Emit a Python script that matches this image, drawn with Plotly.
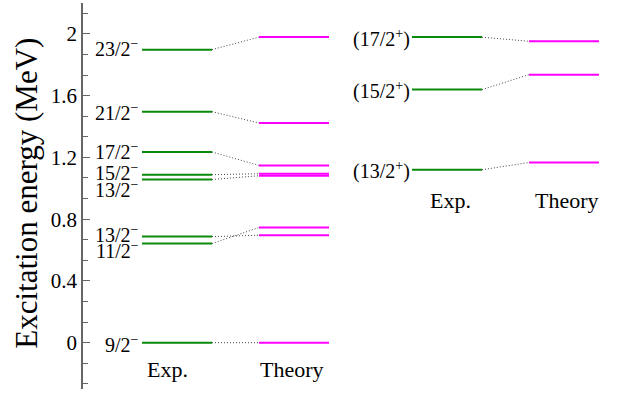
import plotly.graph_objects as go

# ## Level energies (MeV)

# negative parity states, left panel
neg_spins = ["9/2", "11/2", "13/2", "13/2", "15/2", "17/2", "21/2", "23/2"]
neg_exp = [0.0, 0.642, 0.687, 1.057, 1.088, 1.235, 1.496, 1.898]
neg_theory = [0.0, 0.746, 0.696, 1.081, 1.094, 1.148, 1.423, 1.979]

# positive parity states, right panel
pos_spins = ["13/2", "15/2", "17/2"]
pos_exp = [1.120, 1.639, 1.979]
pos_theory = [1.167, 1.736, 1.952]

y_tickvals = [0, 0.4, 0.8, 1.2, 1.6, 2.0]
y_ticktext = ["0", "0.4", "0.8", "1.2", "1.6", "2"]

column_names = ["Exp.", "Theory"]

# ## Layout constants (x axis runs in pixel units of the page)

FONT = "'Liberation Serif', 'Times New Roman', 'DejaVu Serif', serif"
GREEN = "#0a8a0a"
MAGENTA = "#ff00ff"
LEFT_EXP = (142, 212)
LEFT_TH = (259, 329)
RIGHT_EXP = (412, 482)
RIGHT_TH = (529, 599)
LEFT_NAME_X = (167, 292)
RIGHT_NAME_X = (450, 567)

# small vertical nudges (px) so crowded spin labels do not overlap
neg_label_shift = [-1, -6, 3, -10, 3, 1, 0, 2]
pos_label_shift = [-1, -1, -1]


def segments(levels, col):
    xs, ys = [], []
    for e in levels:
        xs += [col[0], col[1], None]
        ys += [e, e, None]
    return xs, ys


def connectors(exp, th, col_exp, col_th):
    xs, ys = [], []
    for a, b in zip(exp, th):
        xs += [col_exp[1], col_th[0], None]
        ys += [a, b, None]
    return xs, ys


fig = go.Figure()

for exp, th, ce, ct in [(neg_exp, neg_theory, LEFT_EXP, LEFT_TH),
                        (pos_exp, pos_theory, RIGHT_EXP, RIGHT_TH)]:
    x, y = connectors(exp, th, ce, ct)
    fig.add_trace(go.Scatter(x=x, y=y, mode="lines", hoverinfo="skip",
                             line=dict(color="#444444", width=1, dash="1px,2px")))
    x, y = segments(exp, ce)
    fig.add_trace(go.Scatter(x=x, y=y, mode="lines", line=dict(color=GREEN, width=2)))
    x, y = segments(th, ct)
    fig.add_trace(go.Scatter(x=x, y=y, mode="lines", line=dict(color=MAGENTA, width=2)))

for spin, e, dy in zip(neg_spins, neg_exp, neg_label_shift):
    fig.add_annotation(x=LEFT_EXP[0] - 1, y=e, yshift=dy, xanchor="right", yanchor="middle",
                       text=spin + "<sup>−</sup>", showarrow=False,
                       font=dict(family=FONT, size=20, color="black"))

for spin, e, dy in zip(pos_spins, pos_exp, pos_label_shift):
    fig.add_annotation(x=RIGHT_EXP[0], y=e, yshift=dy, xanchor="right", yanchor="middle",
                       text="(" + spin + "<sup>+</sup>)", showarrow=False,
                       font=dict(family=FONT, size=20, color="black"))

for xs, base, dy in [(LEFT_NAME_X, neg_exp[0], -27),
                     (RIGHT_NAME_X, pos_exp[0], -31)]:
    for name, xc in zip(column_names, xs):
        fig.add_annotation(x=xc, y=base, yshift=dy, showarrow=False,
                           text=name, font=dict(family=FONT, size=22, color="black"))

# axis title as a free annotation so it can sit exactly where the original has it
fig.add_annotation(x=(27 - 83) / 542, y=0.506, xref="paper", yref="paper",
                   xanchor="center", yanchor="middle",
                   textangle=-90, showarrow=False,
                   text="Excitation energy (MeV)",
                   font=dict(family=FONT, size=31, color="black"))

fig.update_layout(
    width=625, height=395,
    margin=dict(l=83, r=0, t=3, b=6),
    paper_bgcolor="white", plot_bgcolor="white",
    showlegend=False,
    xaxis=dict(range=[83, 625], visible=False),
    yaxis=dict(range=[-0.3, 2.2], showgrid=False, zeroline=False,
               showline=True, linecolor="#666666", linewidth=1.5,
               ticks="inside", ticklen=7, tickwidth=1.2, tickcolor="#666666",
               tickvals=y_tickvals, ticktext=y_ticktext,
               tickfont=dict(family=FONT, size=21, color="black"),
               minor=dict(ticks="inside", dtick=0.4 / 3, tick0=0, ticklen=5,
                          tickwidth=1.2, tickcolor="#666666", showgrid=False)),
)

# the page's default body margin would push the chart 8px off
fig.write_html("out.html", config={"displayModeBar": False},
               post_script="document.body.style.margin='0';")
